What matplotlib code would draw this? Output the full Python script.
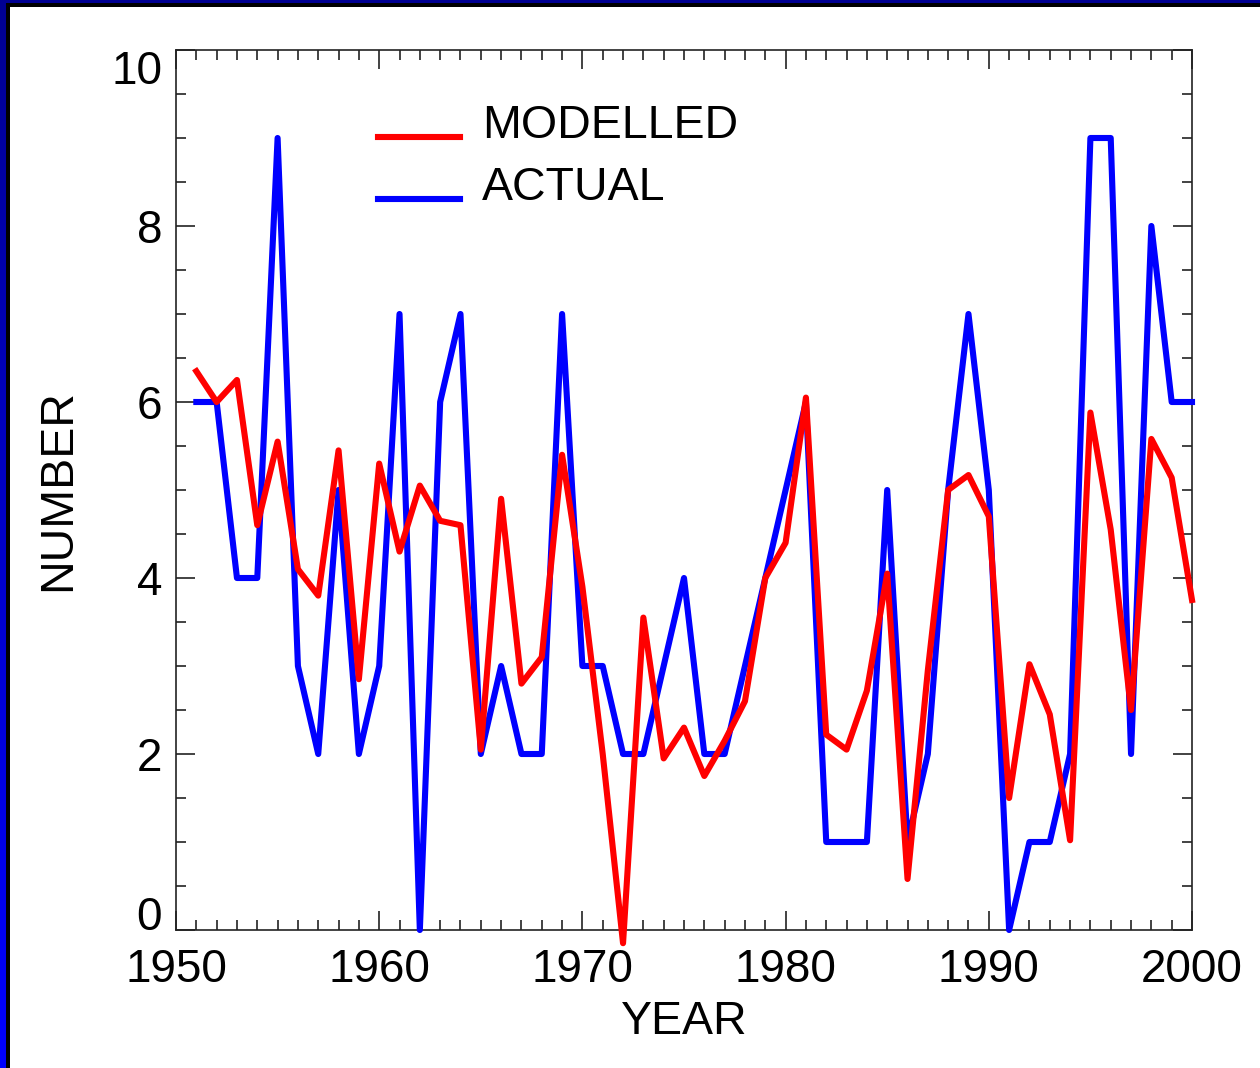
import numpy as np
import matplotlib
matplotlib.use('Agg')
import matplotlib.pyplot as plt
from matplotlib.ticker import MultipleLocator

plt.rcParams['font.family'] = ['Liberation Sans', 'DejaVu Sans']

# Yearly counts, 1951-2000
years = list(range(1951, 2001))
actual = [6, 6, 4, 4, 9, 3, 2, 5, 2, 3,
          7, 0, 6, 7, 2, 3, 2, 2, 7, 3,
          3, 2, 2, 3, 4, 2, 2, 3, 4, 5,
          6, 1, 1, 1, 5, 1, 2, 5, 7, 5,
          0, 1, 1, 2, 9, 9, 2, 8, 6, 6]
modelled = [6.35, 6.0, 6.25, 4.6, 5.55, 4.1, 3.8, 5.45, 2.85, 5.3,
            4.3, 5.05, 4.65, 4.6, 2.05, 4.9, 2.8, 3.1, 5.4, 3.9,
            2.0, -0.15, 3.55, 1.95, 2.3, 1.75, 2.15, 2.6, 4.0, 4.4,
            6.05, 2.22, 2.05, 2.72, 4.05, 0.58, 2.95, 5.0, 5.17, 4.7,
            1.5, 3.02, 2.45, 1.02, 5.88, 4.55, 2.5, 5.58, 5.14, 3.75]

fig = plt.figure(figsize=(12.6, 10.68), dpi=100)
fig.patch.set_facecolor('white')

# slide frame: navy band on top, navy-to-blue strip on the left, black inner rule
W, H = 1260.0, 1068.0
grad = np.linspace(0, 1, 256).reshape(-1, 1)
cmap = matplotlib.colors.LinearSegmentedColormap.from_list('edge', ['#000092', '#0000ff'])
ax_edge = fig.add_axes([0, 0, 6 / W, 1])
ax_edge.imshow(grad, aspect='auto', cmap=cmap, origin='upper')
ax_edge.axis('off')
fig.add_artist(plt.Rectangle((0, 1 - 3 / H), 1, 3 / H, transform=fig.transFigure,
                             color='#000092', lw=0))
fig.add_artist(plt.Rectangle((6 / W, 1 - 7 / H), 1, 4 / H, transform=fig.transFigure,
                             color='black', lw=0))
fig.add_artist(plt.Rectangle((6 / W, 0), 4 / W, 1 - 3 / H, transform=fig.transFigure,
                             color='black', lw=0))

ax = fig.add_axes([176 / W, 1 - 930 / H, 1016 / W, 880 / H])
ax.plot(years, actual, color='#0000ff', lw=4.4, clip_on=False, zorder=3)
ax.plot(years, modelled, color='#ff0000', lw=4.4, clip_on=False, zorder=4)

ax.set_xlim(1950, 2000)
ax.set_ylim(0, 10)
ax.xaxis.set_major_locator(MultipleLocator(10))
ax.xaxis.set_minor_locator(MultipleLocator(1))
ax.yaxis.set_major_locator(MultipleLocator(2))
ax.yaxis.set_minor_locator(MultipleLocator(0.5))
ax.tick_params(which='both', direction='in', top=True, right=True, width=1.2, color='#222222')
ax.tick_params(which='major', length=14, labelsize=33)
ax.tick_params(which='minor', length=7)
ax.tick_params(axis='x', pad=13)
ax.tick_params(axis='y', pad=10)
for s in ax.spines.values():
    s.set_linewidth(1.2)
    s.set_color('#222222')

ax.set_xlabel('YEAR', fontsize=33.5, labelpad=6)
ax.set_ylabel('NUMBER', fontsize=33.5, labelpad=22)

# keep the end labels of the y axis inside the frame
fig.canvas.draw()
for tick in ax.yaxis.get_major_ticks():
    if np.isclose(tick.get_loc(), 0):
        tick.label1.set_verticalalignment('baseline')
    elif np.isclose(tick.get_loc(), 10):
        tick.label1.set_verticalalignment('top')

# key in the upper left of the plot
ax.plot([0.199, 0.2795], [0.901, 0.901], color='#ff0000', lw=4.4, transform=ax.transAxes)
ax.plot([0.199, 0.2795], [0.831, 0.831], color='#0000ff', lw=4.4, transform=ax.transAxes)
ax.text(0.301, 0.9, 'MODELLED', fontsize=33.5, va='baseline', transform=ax.transAxes)
ax.text(0.301, 0.829, 'ACTUAL', fontsize=33.5, va='baseline', transform=ax.transAxes)

fig.savefig('out.png', dpi=100)
